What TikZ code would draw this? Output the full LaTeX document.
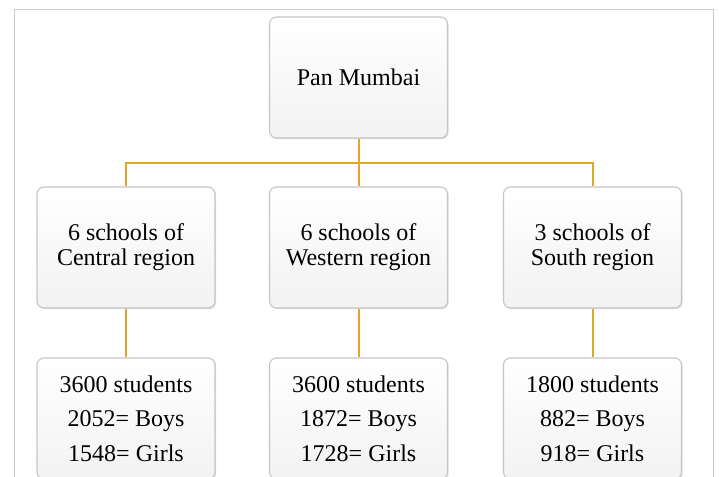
\documentclass[tikz,border=0pt]{standalone}
\usepackage{fontspec}
\setmainfont{Liberation Serif}
\usetikzlibrary{shadows}
\definecolor{gold}{RGB}{222,168,40}
\definecolor{frame}{RGB}{205,205,205}
\tikzset{
  box/.style={rectangle, rounded corners=7pt, draw=gray!45, line width=1.1pt,
    top color=white, bottom color=gray!10, minimum width=178pt, minimum height=121pt,
    inner sep=0pt, align=center,
    drop shadow={shadow xshift=1.2pt, shadow yshift=-1.2pt, opacity=0.25, fill=gray}},
  midtext/.style={font=\fontsize{24}{25}\selectfont},
  bottext/.style={font=\fontsize{24}{34.5}\selectfont},
  link/.style={draw=gold, line width=2pt},
}
\begin{document}
\begin{tikzpicture}[x=1pt,y=-1pt]
\useasboundingbox (0,0) rectangle (719,476);
\clip (0,0) rectangle (719,476);
\fill[white] (0,0) rectangle (719,476);
\draw[frame, line width=1pt] (14,480) -- (14,9.5) -- (713,9.5) -- (713,480);

\node[box, font=\fontsize{24}{25}\selectfont] (top) at (358.5,77.5) {Pan Mumbai};

\node[box, midtext] (c1) at (126,247.5) {6 schools of\\Central region};
\node[box, midtext] (c2) at (358.5,247.5) {6 schools of\\Western region};
\node[box, midtext] (c3) at (592.5,247.5) {3 schools of\\South region};

\node[box, bottext] (b1) at (126,418.5) {3600 students\\2052= Boys\\1548= Girls};
\node[box, bottext] (b2) at (358.5,418.5) {3600 students\\1872= Boys\\1728= Girls};
\node[box, bottext] (b3) at (592.5,418.5) {1800 students\\882= Boys\\918= Girls};

\coordinate (bus) at (358.5,163);
\draw[link] (top.south) -- (c2.north);
\draw[link] (c1.north) |- (bus) -| (c3.north);
\draw[link] (c1.south) -- (b1.north);
\draw[link] (c2.south) -- (b2.north);
\draw[link] (c3.south) -- (b3.north);
\end{tikzpicture}
\end{document}
